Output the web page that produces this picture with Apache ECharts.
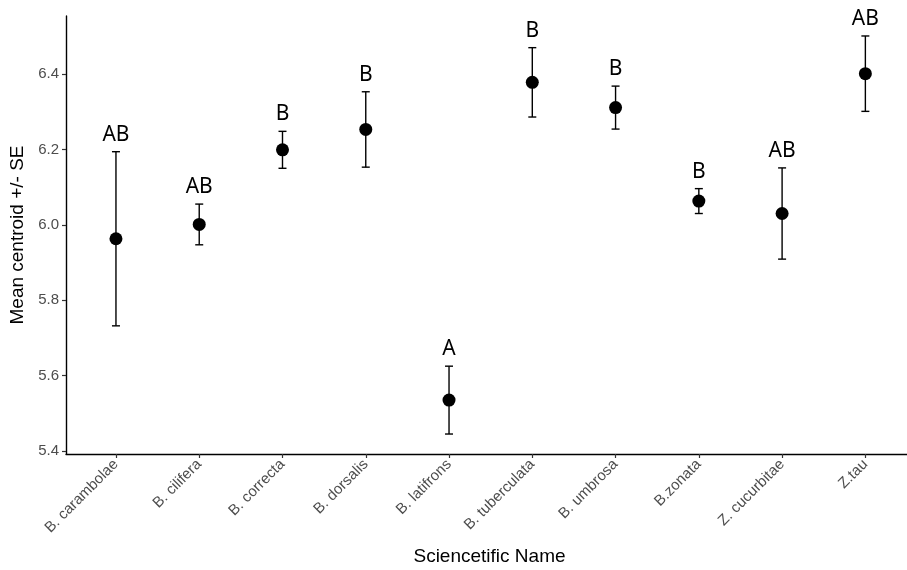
<!DOCTYPE html>
<html>
<head>
<meta charset="utf-8">
<script src="https://cdn.jsdelivr.net/npm/echarts@6/dist/echarts.min.js"></script>
<style>
  html, body { margin: 0; padding: 0; background: #fff; }
  #chart { width: 907px; height: 570px; }
</style>
</head>
<body>
<div id="chart"></div>
<script>
// species on the x axis
const species = ['B. carambolae', 'B. cilifera', 'B. correcta', 'B. dorsalis', 'B. latifrons',
                 'B. tuberculata', 'B. umbrosa', 'B.zonata', 'Z. cucurbitae', 'Z.tau'];
// mean centroid and standard error
const means = [5.963, 6.001, 6.199, 6.253, 5.535, 6.378, 6.311, 6.063, 6.030, 6.401];
const se = [0.231, 0.054, 0.049, 0.100, 0.090, 0.092, 0.057, 0.033, 0.121, 0.100];
// group letters above each bar
const letters = ['AB', 'AB', 'B', 'B', 'A', 'B', 'B', 'B', 'AB', 'AB'];
const yTicks = [5.4, 5.6, 5.8, 6.0, 6.2, 6.4];

const chartDom = document.getElementById('chart');
const chart = echarts.init(chartDom);

const xIdx = species.map((s, i) => i);
const errData = species.map((s, i) => [i, means[i] - se[i], means[i] + se[i]]);
const pointData = species.map((s, i) => [i, means[i]]);

function renderErr(params, api) {
    const x = api.value(0);
    const lo = api.coord([x, api.value(1)]);
    const hi = api.coord([x, api.value(2)]);
    const cap = 4;
    const style = { stroke: '#000', lineWidth: 1.4 };
    return {
        type: 'group',
        children: [
            { type: 'line', shape: { x1: lo[0], y1: lo[1], x2: hi[0], y2: hi[1] }, style: style },
            { type: 'line', shape: { x1: hi[0] - cap, y1: hi[1], x2: hi[0] + cap, y2: hi[1] }, style: style },
            { type: 'line', shape: { x1: lo[0] - cap, y1: lo[1], x2: lo[0] + cap, y2: lo[1] }, style: style },
            {
                type: 'text',
                x: hi[0], y: hi[1] - 17,
                style: {
                    text: letters[params.dataIndex],
                    fill: '#000',
                    font: '21px "Noto Sans", sans-serif',
                    align: 'center',
                    verticalAlign: 'middle'
                }
            }
        ]
    };
}

const option = {
    animation: false,
    backgroundColor: '#fff',
    grid: { left: 66, right: 0, top: 16, bottom: 116, outerBoundsMode: 'none', containLabel: false },
    xAxis: {
        type: 'value',
        min: -0.6,
        max: 9.5,
        name: 'Sciencetific Name',
        nameLocation: 'middle',
        nameGap: 93,
        nameTextStyle: { color: '#000', fontSize: 19, fontFamily: 'Liberation Sans', padding: [0, 0, 0, 6] },
        splitLine: { show: false },
        axisLine: { show: true, onZero: false, lineStyle: { color: '#000', width: 1.4 } },
        axisTick: { show: true, customValues: xIdx, length: 4, lineStyle: { color: '#333', width: 1.2 } },
        axisLabel: {
            customValues: xIdx,
            formatter: v => species[Math.round(v)],
            rotate: 45,
            margin: 8,
            color: '#4d4d4d',
            fontSize: 15,
            fontFamily: 'Liberation Sans'
        }
    },
    yAxis: {
        type: 'value',
        min: 5.392,
        max: 6.554,
        name: 'Mean centroid +/- SE',
        nameLocation: 'middle',
        nameGap: 35,
        nameTextStyle: { color: '#000', fontSize: 19, fontFamily: 'Liberation Sans' },
        splitLine: { show: false },
        axisLine: { show: true, onZero: false, lineStyle: { color: '#000', width: 1.4 } },
        axisTick: { show: true, customValues: yTicks, length: 4, lineStyle: { color: '#333', width: 1.2 } },
        axisLabel: {
            customValues: yTicks,
            formatter: v => v.toFixed(1),
            margin: 7,
            color: '#4d4d4d',
            fontSize: 15,
            fontFamily: 'Liberation Sans'
        }
    },
    series: [
        {
            type: 'custom',
            renderItem: renderErr,
            data: errData,
            encode: { x: 0, y: [1, 2] },
            z: 2
        },
        {
            type: 'scatter',
            data: pointData,
            symbol: 'circle',
            symbolSize: 13,
            itemStyle: { color: '#000', opacity: 1 },
            z: 3
        }
    ]
};

chart.setOption(option);
</script>
</body>
</html>
